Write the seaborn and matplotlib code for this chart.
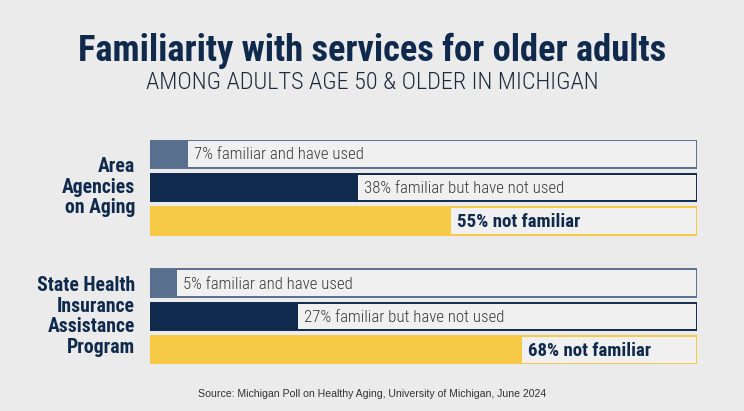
import pandas as pd
import seaborn as sns
import matplotlib.pyplot as plt

# data
programs = ['Area\nAgencies\non Aging', 'State Health\nInsurance\nAssistance\nProgram']
kinds = ['familiar and have used', 'familiar but have not used', 'not familiar']
area_agencies = [7, 38, 55]
ship = [5, 27, 68]

title = 'Familiarity with services for older adults'
subtitle = 'AMONG ADULTS AGE 50 & OLDER IN MICHIGAN'
source = 'Source: Michigan Poll on Healthy Aging, University of Michigan, June 2024'

colors = {'familiar and have used': '#586f8d',
          'familiar but have not used': '#0f2a4c',
          'not familiar': '#f6ca45'}
bg = '#ebebeb'
navy = '#0f2a4c'

# row positions: three bars per program, with a gap between programs
positions = [0, 1, 2, 3.85, 4.85, 5.85]
rows = []
for i, vals in enumerate([area_agencies, ship]):
    for j, k in enumerate(kinds):
        rows.append({'pos': positions[i * 3 + j], 'value': vals[j], 'kind': k,
                     'track': 100, 'program': programs[i]})
df = pd.DataFrame(rows)

sns.set_theme(style='white')
cond = ['Roboto Condensed', 'DejaVu Sans']
plt.rcParams['font.family'] = cond

fig = plt.figure(figsize=(7.44, 4.11), dpi=100, facecolor=bg)
ax = fig.add_axes([150 / 744, 1 - 364 / 411, 547 / 744, 224 / 411])
ax.set_facecolor(bg)

# background track with coloured outline
sns.barplot(data=df, x='track', y='pos', orient='y', native_scale=True,
            color='#f0f0f0', width=0.82, ax=ax, saturation=1)
for patch, k in zip(ax.patches, df['kind']):
    patch.set_edgecolor(colors[k])
    patch.set_linewidth(1.4)
n_track = len(ax.patches)

# filled share
sns.barplot(data=df, x='value', y='pos', hue='kind', palette=colors, orient='y',
            native_scale=True, dodge=False, width=0.82, ax=ax, saturation=1,
            legend=False)
for patch in ax.patches[n_track:]:
    patch.set_linewidth(0)

for _, r in df.iterrows():
    bold = r['kind'] == 'not familiar'
    ax.text(r['value'] + 1.1, r['pos'] + 0.03, f"{r['value']}% {r['kind']}",
            va='center', ha='left', fontsize=13.6 if bold else 12.2,
            color=navy if bold else '#3a3a3a',
            fontweight=700 if bold else 300)

ax.set_xlim(0, 100)
ax.set_ylim(6.26, -0.41)
ax.set_xticks([])
ax.set_yticks([])
ax.set_xlabel('')
ax.set_ylabel('')
sns.despine(ax=ax, left=True, bottom=True)

# program labels
for i, p in enumerate(programs):
    mid = positions[i * 3 + 1]
    ax.text(-15 / 547 * 100, mid, p, ha='right', va='center', fontsize=14.2,
            fontweight=700, color=navy, linespacing=1.1)

fig.text(0.5, 1 - 51 / 411, title, ha='center', va='center', fontsize=26.3,
         fontweight=700, color=navy)
fig.text(0.5, 1 - 82 / 411, subtitle, ha='center', va='center', fontsize=17.5,
         fontweight=300, color='#1c2a3e')
fig.text(372 / 744, 1 - 394 / 411, source, ha='center', va='center',
         fontsize=7.6, color='#333333', family=['Liberation Sans', 'DejaVu Sans'])

fig.savefig('out.png', dpi=100, facecolor=bg)
